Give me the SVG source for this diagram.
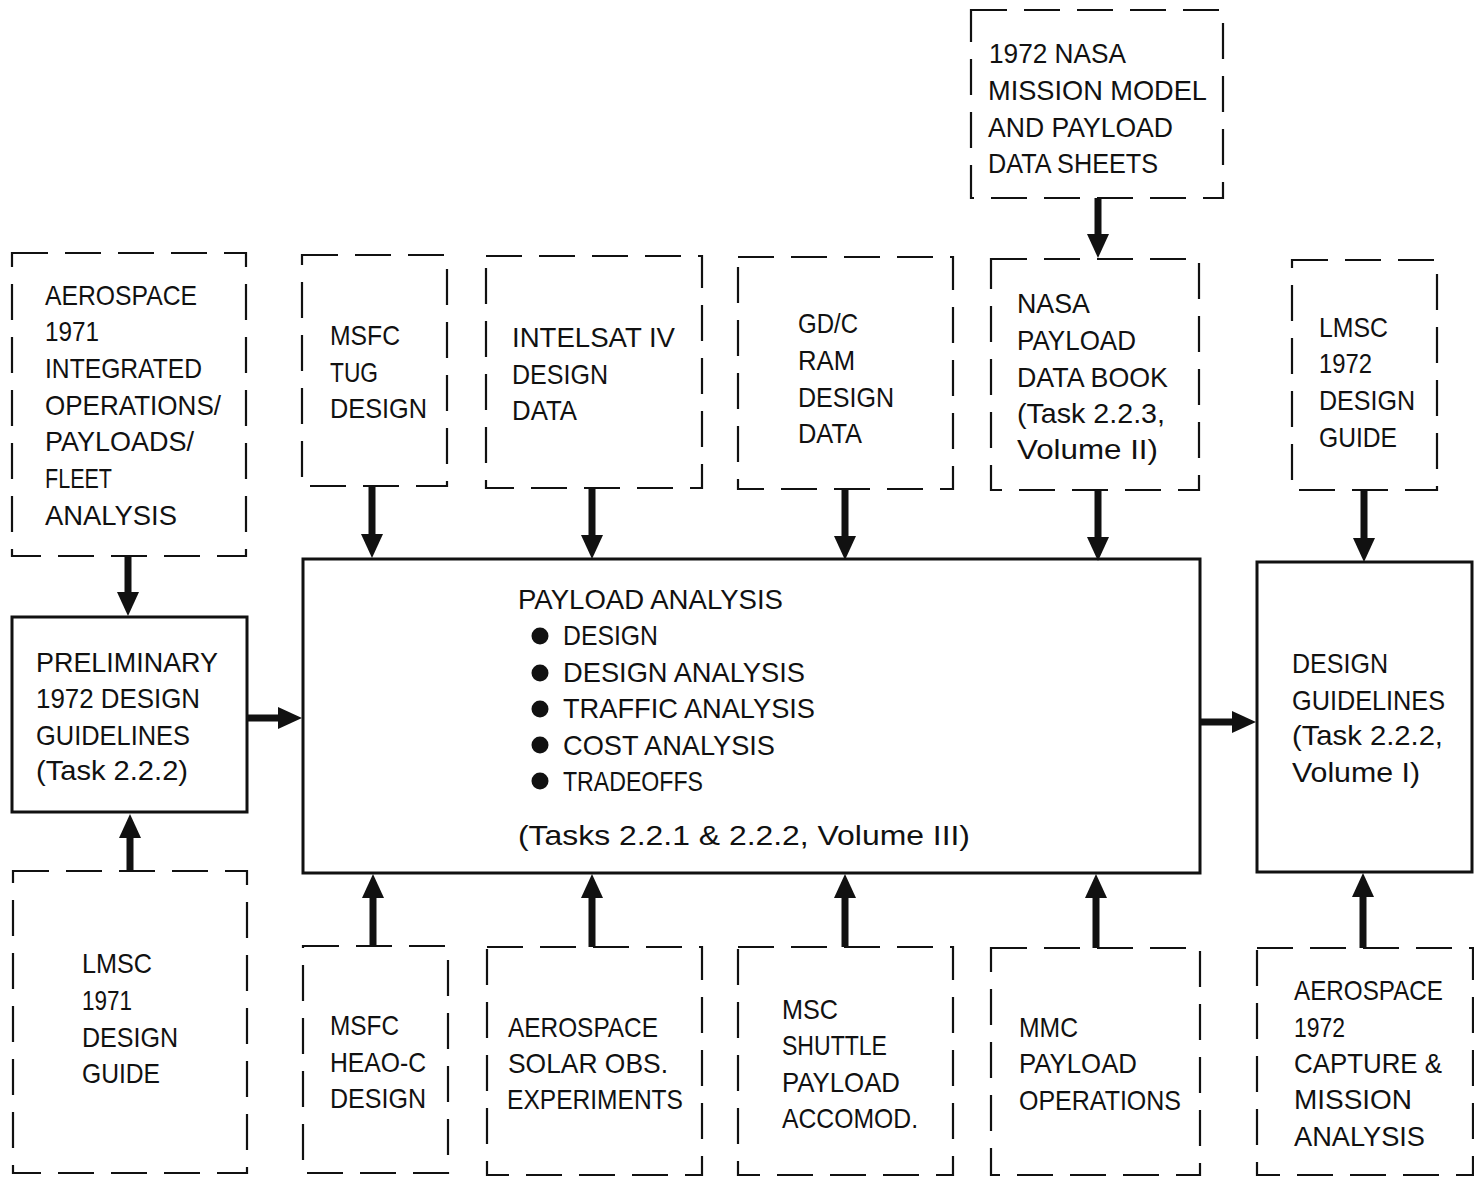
<svg xmlns="http://www.w3.org/2000/svg" width="1474" height="1178" viewBox="0 0 1474 1178">
<style>
.dash{fill:none;stroke:#111;stroke-width:2.2;stroke-dasharray:36 17}
.solid{fill:none;stroke:#111;stroke-width:3}
text{font-family:"Liberation Sans",Arial,sans-serif;font-size:28.5px;fill:#111}
.conn line{stroke:#111;stroke-width:7}
</style>
<defs>
<marker id="ah" markerUnits="userSpaceOnUse" markerWidth="26" markerHeight="24" refX="4" refY="12" orient="auto" viewBox="0 0 26 24">
<path d="M0,1 L24,12 L0,23 Z" fill="#111"/>
</marker>
</defs>
<rect width="1474" height="1178" fill="#fff"/>

<g id="nasa-mission-model">
<rect class="dash" x="971" y="10" width="252" height="188"/>
<text x="989" y="63" textLength="137" lengthAdjust="spacingAndGlyphs">1972 NASA</text>
<text x="988" y="100" textLength="219" lengthAdjust="spacingAndGlyphs">MISSION MODEL</text>
<text x="988" y="137" textLength="185" lengthAdjust="spacingAndGlyphs">AND PAYLOAD</text>
<text x="988" y="173" textLength="170" lengthAdjust="spacingAndGlyphs">DATA SHEETS</text>
</g>

<g id="aerospace-1971">
<rect class="dash" x="12" y="253" width="234" height="303"/>
<text x="45" y="305" textLength="152" lengthAdjust="spacingAndGlyphs">AEROSPACE</text>
<text x="45" y="341" textLength="54" lengthAdjust="spacingAndGlyphs">1971</text>
<text x="45" y="378" textLength="157" lengthAdjust="spacingAndGlyphs">INTEGRATED</text>
<text x="45" y="415" textLength="176" lengthAdjust="spacingAndGlyphs">OPERATIONS/</text>
<text x="45" y="451" textLength="149" lengthAdjust="spacingAndGlyphs">PAYLOADS/</text>
<text x="45" y="488" textLength="67" lengthAdjust="spacingAndGlyphs">FLEET</text>
<text x="45" y="525" textLength="132" lengthAdjust="spacingAndGlyphs">ANALYSIS</text>
</g>

<g id="msfc-tug">
<rect class="dash" x="302" y="255" width="145" height="231"/>
<text x="330" y="345" textLength="70" lengthAdjust="spacingAndGlyphs">MSFC</text>
<text x="330" y="382" textLength="48" lengthAdjust="spacingAndGlyphs">TUG</text>
<text x="330" y="418" textLength="97" lengthAdjust="spacingAndGlyphs">DESIGN</text>
</g>

<g id="intelsat">
<rect class="dash" x="486" y="256" width="216" height="232"/>
<text x="512" y="347" textLength="163" lengthAdjust="spacingAndGlyphs">INTELSAT IV</text>
<text x="512" y="384" textLength="96" lengthAdjust="spacingAndGlyphs">DESIGN</text>
<text x="512" y="420" textLength="65" lengthAdjust="spacingAndGlyphs">DATA</text>
</g>

<g id="gdc-ram">
<rect class="dash" x="738" y="257" width="215" height="232"/>
<text x="798" y="333" textLength="60" lengthAdjust="spacingAndGlyphs">GD/C</text>
<text x="798" y="370" textLength="57" lengthAdjust="spacingAndGlyphs">RAM</text>
<text x="798" y="407" textLength="96" lengthAdjust="spacingAndGlyphs">DESIGN</text>
<text x="798" y="443" textLength="64" lengthAdjust="spacingAndGlyphs">DATA</text>
</g>

<g id="nasa-payload-data-book">
<rect class="dash" x="991" y="259" width="208" height="231"/>
<text x="1017" y="313" textLength="73" lengthAdjust="spacingAndGlyphs">NASA</text>
<text x="1017" y="350" textLength="119" lengthAdjust="spacingAndGlyphs">PAYLOAD</text>
<text x="1017" y="387" textLength="151" lengthAdjust="spacingAndGlyphs">DATA BOOK</text>
<text x="1017" y="423" textLength="148" lengthAdjust="spacingAndGlyphs">(Task 2.2.3,</text>
<text x="1017" y="459" textLength="141" lengthAdjust="spacingAndGlyphs">Volume II)</text>
</g>

<g id="lmsc-1972">
<rect class="dash" x="1292" y="260" width="145" height="230"/>
<text x="1319" y="337" textLength="69" lengthAdjust="spacingAndGlyphs">LMSC</text>
<text x="1319" y="373" textLength="53" lengthAdjust="spacingAndGlyphs">1972</text>
<text x="1319" y="410" textLength="96" lengthAdjust="spacingAndGlyphs">DESIGN</text>
<text x="1319" y="447" textLength="78" lengthAdjust="spacingAndGlyphs">GUIDE</text>
</g>

<g id="preliminary-guidelines">
<rect class="solid" x="12" y="617" width="235" height="195"/>
<text x="36" y="672" textLength="182" lengthAdjust="spacingAndGlyphs">PRELIMINARY</text>
<text x="36" y="708" textLength="164" lengthAdjust="spacingAndGlyphs">1972 DESIGN</text>
<text x="36" y="745" textLength="154" lengthAdjust="spacingAndGlyphs">GUIDELINES</text>
<text x="36" y="780" textLength="152" lengthAdjust="spacingAndGlyphs">(Task 2.2.2)</text>
</g>

<g id="payload-analysis">
<rect class="solid" x="303" y="559" width="897" height="314"/>
<text x="518" y="609" textLength="265" lengthAdjust="spacingAndGlyphs">PAYLOAD ANALYSIS</text>
<circle cx="540" cy="636" r="8.5" fill="#111"/>
<text x="563" y="645" textLength="95" lengthAdjust="spacingAndGlyphs">DESIGN</text>
<circle cx="540" cy="673" r="8.5" fill="#111"/>
<text x="563" y="682" textLength="242" lengthAdjust="spacingAndGlyphs">DESIGN ANALYSIS</text>
<circle cx="540" cy="709" r="8.5" fill="#111"/>
<text x="563" y="718" textLength="252" lengthAdjust="spacingAndGlyphs">TRAFFIC ANALYSIS</text>
<circle cx="540" cy="745" r="8.5" fill="#111"/>
<text x="563" y="755" textLength="212" lengthAdjust="spacingAndGlyphs">COST ANALYSIS</text>
<circle cx="540" cy="781" r="8.5" fill="#111"/>
<text x="563" y="791" textLength="140" lengthAdjust="spacingAndGlyphs">TRADEOFFS</text>
<text x="518" y="845" textLength="452" lengthAdjust="spacingAndGlyphs">(Tasks 2.2.1 &amp; 2.2.2, Volume III)</text>
</g>

<g id="design-guidelines">
<rect class="solid" x="1257" y="562" width="215" height="310"/>
<text x="1292" y="673" textLength="96" lengthAdjust="spacingAndGlyphs">DESIGN</text>
<text x="1292" y="710" textLength="153" lengthAdjust="spacingAndGlyphs">GUIDELINES</text>
<text x="1292" y="745" textLength="151" lengthAdjust="spacingAndGlyphs">(Task 2.2.2,</text>
<text x="1292" y="782" textLength="128" lengthAdjust="spacingAndGlyphs">Volume I)</text>
</g>

<g id="lmsc-1971">
<rect class="dash" x="13" y="871" width="234" height="302"/>
<text x="82" y="973" textLength="70" lengthAdjust="spacingAndGlyphs">LMSC</text>
<text x="82" y="1010" textLength="50" lengthAdjust="spacingAndGlyphs">1971</text>
<text x="82" y="1047" textLength="96" lengthAdjust="spacingAndGlyphs">DESIGN</text>
<text x="82" y="1083" textLength="78" lengthAdjust="spacingAndGlyphs">GUIDE</text>
</g>

<g id="msfc-heao">
<rect class="dash" x="303" y="946" width="145" height="227"/>
<text x="330" y="1035" textLength="69" lengthAdjust="spacingAndGlyphs">MSFC</text>
<text x="330" y="1072" textLength="96" lengthAdjust="spacingAndGlyphs">HEAO-C</text>
<text x="330" y="1108" textLength="96" lengthAdjust="spacingAndGlyphs">DESIGN</text>
</g>

<g id="aerospace-solar">
<rect class="dash" x="487" y="947" width="215" height="228"/>
<text x="508" y="1037" textLength="150" lengthAdjust="spacingAndGlyphs">AEROSPACE</text>
<text x="508" y="1073" textLength="160" lengthAdjust="spacingAndGlyphs">SOLAR OBS.</text>
<text x="507" y="1109" textLength="176" lengthAdjust="spacingAndGlyphs">EXPERIMENTS</text>
</g>

<g id="msc-shuttle">
<rect class="dash" x="738" y="947" width="215" height="228"/>
<text x="782" y="1019" textLength="56" lengthAdjust="spacingAndGlyphs">MSC</text>
<text x="782" y="1055" textLength="105" lengthAdjust="spacingAndGlyphs">SHUTTLE</text>
<text x="782" y="1092" textLength="118" lengthAdjust="spacingAndGlyphs">PAYLOAD</text>
<text x="782" y="1128" textLength="136" lengthAdjust="spacingAndGlyphs">ACCOMOD.</text>
</g>

<g id="mmc-payload-ops">
<rect class="dash" x="991" y="948" width="209" height="227"/>
<text x="1019" y="1037" textLength="59" lengthAdjust="spacingAndGlyphs">MMC</text>
<text x="1019" y="1073" textLength="118" lengthAdjust="spacingAndGlyphs">PAYLOAD</text>
<text x="1019" y="1110" textLength="162" lengthAdjust="spacingAndGlyphs">OPERATIONS</text>
</g>

<g id="aerospace-1972">
<rect class="dash" x="1257" y="948" width="216" height="227"/>
<text x="1294" y="1000" textLength="149" lengthAdjust="spacingAndGlyphs">AEROSPACE</text>
<text x="1294" y="1037" textLength="51" lengthAdjust="spacingAndGlyphs">1972</text>
<text x="1294" y="1073" textLength="148" lengthAdjust="spacingAndGlyphs">CAPTURE &amp;</text>
<text x="1294" y="1109" textLength="118" lengthAdjust="spacingAndGlyphs">MISSION</text>
<text x="1294" y="1146" textLength="131" lengthAdjust="spacingAndGlyphs">ANALYSIS</text>
</g>

<g id="connectors" class="conn">
<line x1="1098" y1="198" x2="1098" y2="238" marker-end="url(#ah)"/>
<line x1="128" y1="556" x2="128" y2="596" marker-end="url(#ah)"/>
<line x1="372" y1="486" x2="372" y2="538" marker-end="url(#ah)"/>
<line x1="592" y1="488" x2="592" y2="539" marker-end="url(#ah)"/>
<line x1="845" y1="489" x2="845" y2="540" marker-end="url(#ah)"/>
<line x1="1098" y1="490" x2="1098" y2="541" marker-end="url(#ah)"/>
<line x1="1364" y1="490" x2="1364" y2="542" marker-end="url(#ah)"/>
<line x1="247" y1="718" x2="282" y2="718" marker-end="url(#ah)"/>
<line x1="1200" y1="722" x2="1236" y2="722" marker-end="url(#ah)"/>
<line x1="130" y1="871" x2="130" y2="834" marker-end="url(#ah)"/>
<line x1="373" y1="946" x2="373" y2="894" marker-end="url(#ah)"/>
<line x1="592" y1="947" x2="592" y2="894" marker-end="url(#ah)"/>
<line x1="845" y1="947" x2="845" y2="894" marker-end="url(#ah)"/>
<line x1="1096" y1="948" x2="1096" y2="894" marker-end="url(#ah)"/>
<line x1="1363" y1="948" x2="1363" y2="893" marker-end="url(#ah)"/>
</g>
</svg>
